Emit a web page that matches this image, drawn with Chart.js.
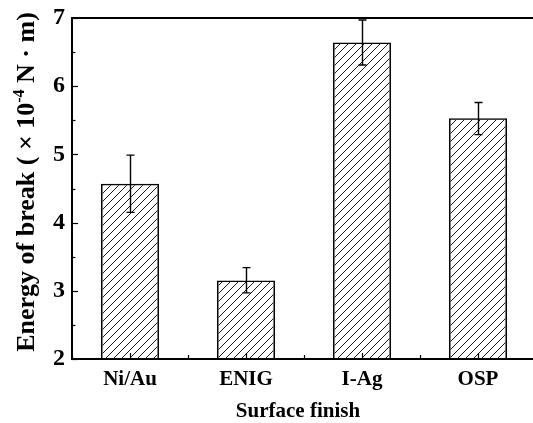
<!DOCTYPE html>
<html>
<head>
<meta charset="utf-8">
<script src="https://cdn.jsdelivr.net/npm/chart.js@4.4.1/dist/chart.umd.min.js"></script>
<style>
  html, body { margin: 0; padding: 0; background: #fff; overflow: hidden; }
  #wrap { position: relative; width: 545px; height: 423px; }
</style>
</head>
<body>
<div id="wrap"><canvas id="c"></canvas></div>
<script>
// Energy of break by surface finish (mean and error range)
const categories = ['Ni/Au', 'ENIG', 'I-Ag', 'OSP'];
const energyValues = [4.57, 3.15, 6.64, 5.53];
const errorUpper = [0.42, 0.19, 0.33, 0.23];
const errorLower = [0.42, 0.18, 0.33, 0.24];
const yTicks = [2, 3, 4, 5, 6, 7];

const SERIF = '"Liberation Serif", "Times New Roman", serif';

// diagonal hatch fill for the bars
function makeHatch() {
  const s = 8;
  const pc = document.createElement('canvas');
  pc.width = s; pc.height = s;
  const g = pc.getContext('2d');
  g.strokeStyle = '#1a1a1a';
  g.lineWidth = 1;
  g.beginPath();
  g.moveTo(-1, s + 1); g.lineTo(s + 1, -1);
  g.moveTo(-1, 1); g.lineTo(1, -1);
  g.moveTo(s - 1, s + 1); g.lineTo(s + 1, s - 1);
  g.stroke();
  return document.getElementById('c').getContext('2d').createPattern(pc, 'repeat');
}

// frame, inward ticks, error bars and axis titles
const decorations = {
  id: 'decorations',
  afterDatasetsDraw(chart) {
    const { ctx, chartArea: a, scales } = chart;
    const y = scales.y;
    ctx.save();
    // error bars
    ctx.strokeStyle = '#000';
    ctx.lineWidth = 1.4;
    const meta = chart.getDatasetMeta(0);
    energyValues.forEach((v, i) => {
      const cx = Math.round(meta.data[i].x) + 0.5;
      const yt = y.getPixelForValue(v + errorUpper[i]);
      const yb = y.getPixelForValue(v - errorLower[i]);
      ctx.beginPath();
      ctx.moveTo(cx, yt); ctx.lineTo(cx, yb);
      ctx.moveTo(cx - 4, yt); ctx.lineTo(cx + 4, yt);
      ctx.moveTo(cx - 4, yb); ctx.lineTo(cx + 4, yb);
      ctx.stroke();
    });
    // inward ticks on the y axis (major integers, minor half steps)
    ctx.lineWidth = 1.2;
    for (let k = 0; k <= 10; k++) {
      const t = 2 + k * 0.5;
      const py = Math.round(y.getPixelForValue(t)) + 0.5;
      const len = k % 2 === 0 ? 6 : 3.5;
      ctx.beginPath();
      ctx.moveTo(a.left, py); ctx.lineTo(a.left + len, py);
      ctx.stroke();
    }
    // inward ticks on the x axis: category centres and boundaries
    const n = categories.length;
    const w = (a.right - a.left) / n;
    for (let k = 0; k <= 2 * n; k++) {
      const px = Math.round(a.left + k * w / 2) + 0.5;
      const len = k % 2 === 1 ? 6 : 4;
      ctx.beginPath();
      ctx.moveTo(px, a.bottom); ctx.lineTo(px, a.bottom - len);
      ctx.stroke();
    }
    // frame
    ctx.lineWidth = 2;
    ctx.beginPath();
    ctx.moveTo(a.left, a.top); ctx.lineTo(a.right, a.top);
    ctx.lineTo(a.right, a.bottom); ctx.lineTo(a.left, a.bottom);
    ctx.closePath();
    ctx.stroke();

    ctx.fillStyle = '#000';
    // x title
    ctx.font = 'bold 21px ' + SERIF;
    ctx.textAlign = 'center';
    ctx.textBaseline = 'middle';
    ctx.fillText('Surface finish', 298, 412);

    // y title with superscript exponent
    const parts = [
      { t: 'Energy of break ( × 10', size: 26, rise: 0 },
      { t: '-4', size: 16, rise: 10 },
      { t: ' N · m)', size: 26, rise: 0 }
    ];
    ctx.textBaseline = 'alphabetic';
    ctx.textAlign = 'left';
    let total = 0;
    parts.forEach(p => { ctx.font = 'bold ' + p.size + 'px ' + SERIF; p.w = ctx.measureText(p.t).width; total += p.w; });
    ctx.translate(34, 182);
    ctx.rotate(-Math.PI / 2);
    let pos = -total / 2;
    parts.forEach(p => {
      ctx.font = 'bold ' + p.size + 'px ' + SERIF;
      ctx.fillText(p.t, pos, -p.rise);
      pos += p.w;
    });
    ctx.restore();
  }
};

new Chart(document.getElementById('c'), {
  type: 'bar',
  data: {
    labels: categories,
    datasets: [{
      data: energyValues,
      backgroundColor: makeHatch(),
      borderColor: '#000',
      borderWidth: 1.5,
      borderSkipped: false,
      categoryPercentage: 1,
      barPercentage: 0.5
    }]
  },
  options: {
    responsive: true,
    maintainAspectRatio: false,
    animation: false,
    layout: { padding: { left: 0, right: 9, top: 18, bottom: 0 } },
    plugins: { legend: { display: false }, tooltip: { enabled: false } },
    scales: {
      x: {
        grid: { display: false, drawTicks: false },
        border: { display: false },
        ticks: { color: '#000', padding: 8, font: { family: SERIF, size: 21, weight: 'bold' } },
        afterFit(s) { s.height = 64; s.paddingLeft = 0; s.paddingRight = 0; }
      },
      y: {
        min: 2, max: 7,
        grid: { display: false, drawTicks: false },
        border: { display: false },
        afterBuildTicks(s) { s.ticks = yTicks.map(v => ({ value: v })); },
        ticks: { color: '#000', padding: 7, font: { family: SERIF, size: 24, weight: 'bold', lineHeight: 1 } },
        afterFit(s) { s.width = 72; s.paddingTop = 0; s.paddingBottom = 0; }
      }
    }
  },
  plugins: [decorations]
});
</script>
</body>
</html>
